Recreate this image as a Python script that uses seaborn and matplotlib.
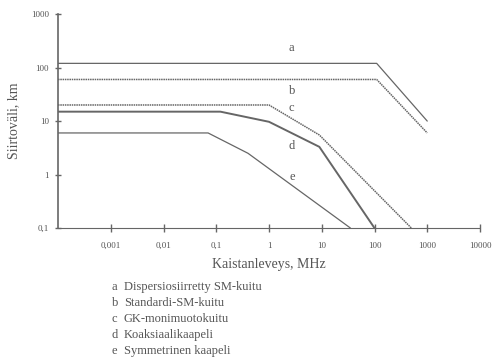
import numpy as np
import pandas as pd
import matplotlib
matplotlib.use("Agg")
import matplotlib.pyplot as plt
import seaborn as sns

# Curves (bandwidth MHz, distance km)
a_x = [1e-4, 110, 1000]
a_y = [120, 120, 10]
b_x = [1e-4, 110, 1000]
b_y = [60, 60, 6]
c_x = [1e-4, 1, 9, 500]
c_y = [20, 20, 5.5, 0.1]
d_x = [1e-4, 0.12, 1, 9, 100]
d_y = [15, 15, 9.7, 3.3, 0.1]
e_x = [1e-4, 0.07, 0.4, 35]
e_y = [6, 6, 2.5, 0.1]

letters = ["a", "b", "c", "d", "e"]
names = ["Dispersiosiirretty SM-kuitu", "Standardi-SM-kuitu",
         "GK-monimuotokuitu", "Koaksiaalikaapeli", "Symmetrinen kaapeli"]
label_y = [230, 37, 17.5, 3.4, 0.9]

x_ticks = [0.001, 0.01, 0.1, 1, 10, 100, 1000, 10000]
x_labels = ["0,001", "0,01", "0,1", "1", "10", "100", "1000", "10000"]
y_ticks = [0.1, 1, 10, 100, 1000]
y_labels = ["0,1", "1", "10", "100", "1000"]

sns.set_style("white")
plt.rcParams["font.family"] = ["Liberation Serif", "DejaVu Serif"]
grey = "#666666"
txt = "#555555"

fig = plt.figure(figsize=(5, 3.62), dpi=100)
ax = fig.add_axes([0.116, 0.37, 0.844, 0.591])

series = [(a_x, a_y, "-", 0.9), (b_x, b_y, (0, (1, 0.5)), 1.1),
          (c_x, c_y, (0, (1, 0.5)), 1.1), (d_x, d_y, "-", 1.4),
          (e_x, e_y, "-", 0.9)]
for (xs, ys, ls, lw), let in zip(series, letters):
    df = pd.DataFrame({"x": xs, "y": ys})
    sns.lineplot(data=df, x="x", y="y", ax=ax, color=grey, linestyle=ls,
                 linewidth=lw, sort=False)

ax.set_xscale("log")
ax.set_yscale("log")
ax.set_xlim(1e-4, 1e4)
ax.set_ylim(0.1, 1000)

for let, ly in zip(letters, label_y):
    ax.text(2.7, ly, let, color=txt, fontsize=9, ha="center", va="center")

ax.set_xticks(x_ticks)
ax.set_xticklabels(x_labels)
ax.set_yticks(y_ticks)
ax.set_yticklabels(y_labels)
ax.minorticks_off()
ax.tick_params(axis="x", bottom=True, direction="inout", length=6, width=1,
               color=grey, labelsize=6.5, labelcolor=txt, pad=7)
ax.tick_params(axis="y", left=True, direction="inout", length=5, width=1,
               color=grey, labelsize=6.5, labelcolor=txt, pad=4)

for s in ["top", "right"]:
    ax.spines[s].set_visible(False)
ax.spines["left"].set_color(grey)
ax.spines["left"].set_linewidth(1.2)
ax.spines["bottom"].set_color(grey)
ax.spines["bottom"].set_linestyle((0, (1, 1)))
ax.spines["bottom"].set_bounds(1e-4, 1e4)

ax.set_xlabel("Kaistanleveys, MHz", color=txt, fontsize=10, labelpad=6)
ax.set_ylabel("Siirtoväli, km", color=txt, fontsize=10, labelpad=8)

for i, (let, name) in enumerate(zip(letters, names)):
    yy = 1 - (287 + 16 * i) / 362
    fig.text(112 / 500, yy, let, color=txt, fontsize=9, va="center")
    fig.text(124 / 500, yy, name, color=txt, fontsize=9, va="center")

fig.savefig("out.png", dpi=100)
